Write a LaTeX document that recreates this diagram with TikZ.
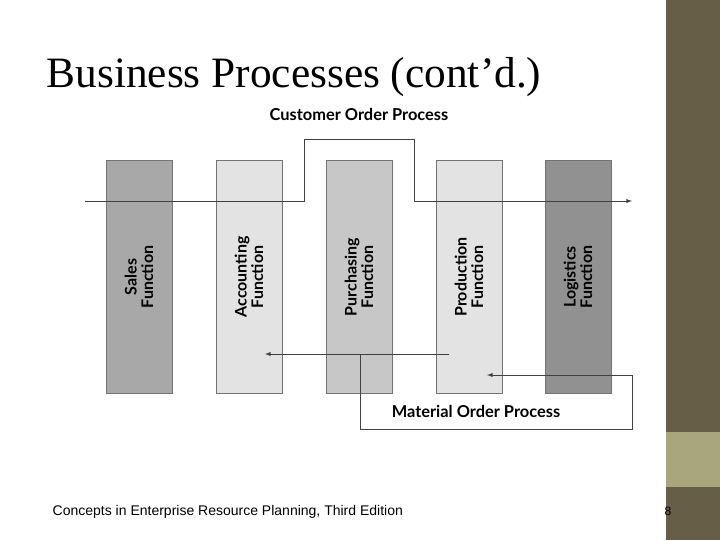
\documentclass[tikz,border=0pt]{standalone}
\usepackage{fontspec}
\setmainfont{Liberation Serif}
\newfontfamily\labelfont{Lato}
\newfontfamily\footfont{Liberation Sans}
\usetikzlibrary{calc}
\definecolor{olivedark}{HTML}{665E47}
\definecolor{olivelight}{HTML}{A9A57D}
\begin{document}
\begin{tikzpicture}[x=0.75pt,y=-0.75pt,
  func/.style={draw=black!55,line width=0.5pt},
  flow/.style={draw=black!75,line width=0.5pt},
  funclabel/.style={rotate=90,align=center,font=\labelfont\bfseries\fontsize{12}{12.5}\selectfont},
  head/.style={font=\labelfont\bfseries\fontsize{12.3}{14}\selectfont}]

% Slide background and side bar
\useasboundingbox (0,0) rectangle (720,540);
\fill[white] (0,0) rectangle (720,540);
\fill[olivedark] (666,0) rectangle (720,540);
\fill[olivelight] (666,432) rectangle (720,487);

% Title and footer
\node[anchor=base west,font=\fontsize{32.5}{34}\selectfont] (title) at (42,87) {Business Processes (cont’d.)};
\node[anchor=base west,font=\footfont\fontsize{10.5}{12}\selectfont] (foot) at (48,515) {Concepts in Enterprise Resource Planning, Third Edition};
\node[anchor=base,font=\footfont\fontsize{9}{11}\selectfont] (page) at (668,515) {8};

% Function columns
\coordinate (S) at (139,0);
\coordinate (A) at (249,0);
\coordinate (P) at (359,0);
\coordinate (R) at (469,0);
\coordinate (L) at (578,0);
\fill[func,fill=black!34] ($(S)+(-33,160)$) rectangle ($(S)+(33,393)$);
\fill[func,fill=black!11] ($(A)+(-33,160)$) rectangle ($(A)+(33,393)$);
\fill[func,fill=black!22] ($(P)+(-33,160)$) rectangle ($(P)+(33,393)$);
\fill[func,fill=black!11] ($(R)+(-33,160)$) rectangle ($(R)+(33,393)$);
\fill[func,fill=black!43] ($(L)+(-33,160)$) rectangle ($(L)+(33,393)$);

\node[funclabel] (sales) at ($(S)+(0,277)$) {Sales\\Function};
\node[funclabel] (acct) at ($(A)+(0,277)$) {Accounting\\Function};
\node[funclabel] (purch) at ($(P)+(0,277)$) {Purchasing\\Function};
\node[funclabel] (prod) at ($(R)+(0,277)$) {Production\\Function};
\node[funclabel] (logi) at ($(L)+(0,277)$) {Logistics\\Function};

% Customer order process
\node[head] (cop) at (359,114) {Customer Order Process};
\coordinate (c0) at (85,201);
\coordinate (c1) at (632,201);
\draw[flow,-latex] (c0) -- (304,201) -- (304,139) -- (414,139) -- (414,201) -- (c1);

% Material order process
\node[head] (mop) at (476,411) {Material Order Process};
\coordinate (m0) at (449,354);
\coordinate (m1) at (265,354);
\coordinate (m2) at (487,375);
\draw[flow,-latex] (m0) -- (m1);
\draw[flow,-latex] (360,354) -- (360,429) -- (632,429) -- (632,375) -- (m2);

\end{tikzpicture}
\end{document}
